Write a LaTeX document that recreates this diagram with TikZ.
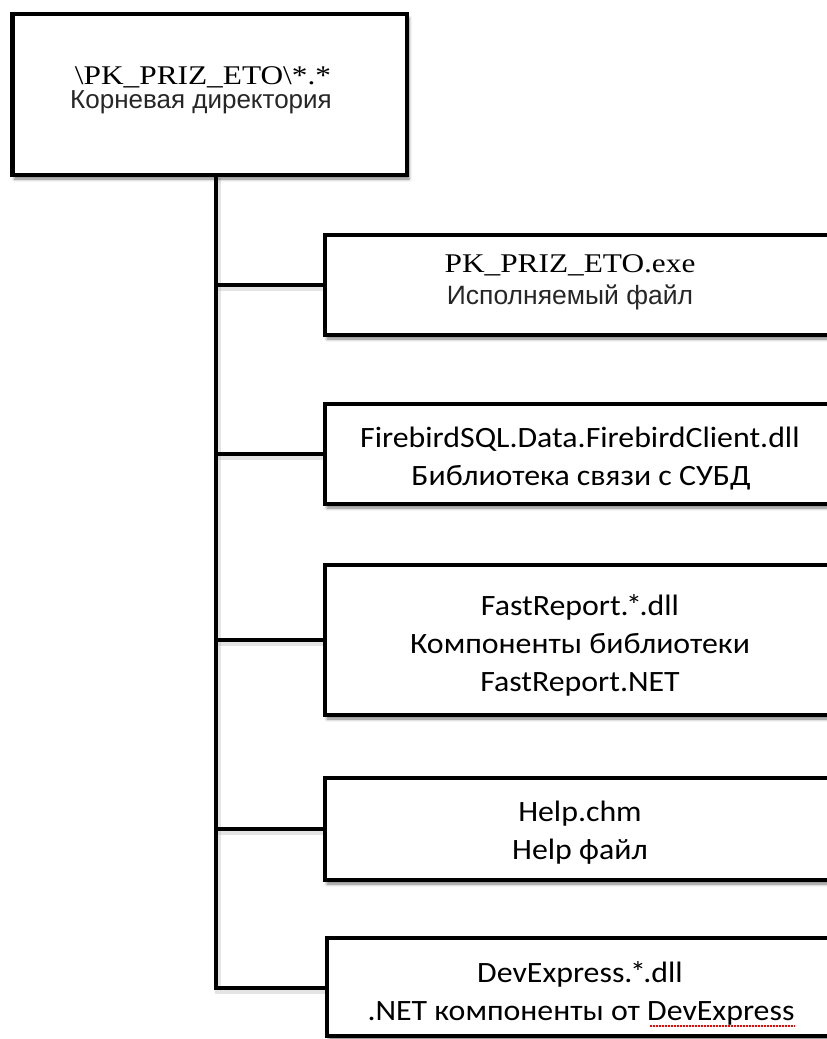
\documentclass[tikz,border=0pt]{standalone}
\usepackage{fontspec}
\usetikzlibrary{shadows.blur}
\newfontfamily\tnrfont[FakeStretch=1.16]{Liberation Serif}
\newfontfamily\arifont{Liberation Sans}
\newfontfamily\calfont[FakeStretch=1.08]{Carlito}
\newcommand{\myast}{\kern-2.5pt*\kern-2.5pt}
\tikzset{
  box/.style={draw=black, line width=4.5pt, fill=white, inner sep=0pt,
    blur shadow={shadow xshift=2pt, shadow yshift=-4pt, shadow blur radius=3pt, shadow opacity=50}},
  conn/.style={draw=black, line width=4.5pt,
    preaction={draw=black!30, opacity=.35, line width=6pt, transform canvas={shift={(1.5pt,-3pt)}}}},
  tline/.style={anchor=base, inner sep=0pt, font=\tnrfont\fontsize{27}{28}\selectfont},
  aline/.style={anchor=base, inner sep=0pt, text=black!85, font=\arifont\fontsize{26.5}{28}\selectfont},
  cline/.style={anchor=base, inner sep=0pt, font=\calfont\fontsize{29.5}{32}\selectfont},
}
\begin{document}
\begin{tikzpicture}[x=1pt, y=-1pt]
\useasboundingbox (0,0) rectangle (827,1039);
% trunk top coordinate
\coordinate (t) at (216,175);
% connectors
\path[conn] (t) -- (t |- 0,988) -- (327,988);
\path[conn] (t |- 0,285) -- (325,285);
\path[conn] (t |- 0,454) -- (325,454);
\path[conn] (t |- 0,640) -- (325,640);
\path[conn] (t |- 0,829) -- (325,829);
% boxes
\node[box, minimum width=394.5pt, minimum height=161pt] (root) at (209.75,94.5) {};
\node[box, minimum width=508pt, minimum height=100pt] (b1) at (579,285) {};
\node[box, minimum width=508pt, minimum height=100pt] (b2) at (579,454) {};
\node[box, minimum width=508pt, minimum height=150pt] (b3) at (579,640) {};
\node[box, minimum width=508pt, minimum height=102pt] (b4) at (579,829) {};
\node[box, minimum width=506pt, minimum height=98pt] (b5) at (580,987) {};
% texts
\node[tline] (r1) at (203,84) {\textbackslash PK\_PRIZ\_ETO\textbackslash *.*};
\node[aline, font=\arifont\fontsize{26}{28}\selectfont] (r2) at (201,108) {Корневая директория};
\node[tline] (t11) at (570,272) {PK\_PRIZ\_ETO.exe};
\node[aline] (t12) at (570,304) {Исполняемый файл};
\node[cline] (t21) at (580,447) {FirebirdSQL.Data.FirebirdClient.dll};
\node[cline] (t22) at (581,485) {Библиотека связи с СУБД};
\node[cline] (t31) at (580,615) {FastReport.\myast.dll};
\node[cline] (t32) at (580,653) {Компоненты библиотеки};
\node[cline] (t33) at (580,691) {FastReport.NET};
\node[cline] (t41) at (580,821) {Help.chm};
\node[cline] (t42) at (580,859) {Help файл};
\node[cline] (t51) at (580,982) {DevExpress.\myast.dll};
\node[cline] (t52) at (581,1020) {.NET компоненты от DevExpress};
\draw[red, line width=1.3pt, dash pattern=on 1.5pt off 1.5pt] (650,1026) -- (795,1026);
\end{tikzpicture}
\end{document}
